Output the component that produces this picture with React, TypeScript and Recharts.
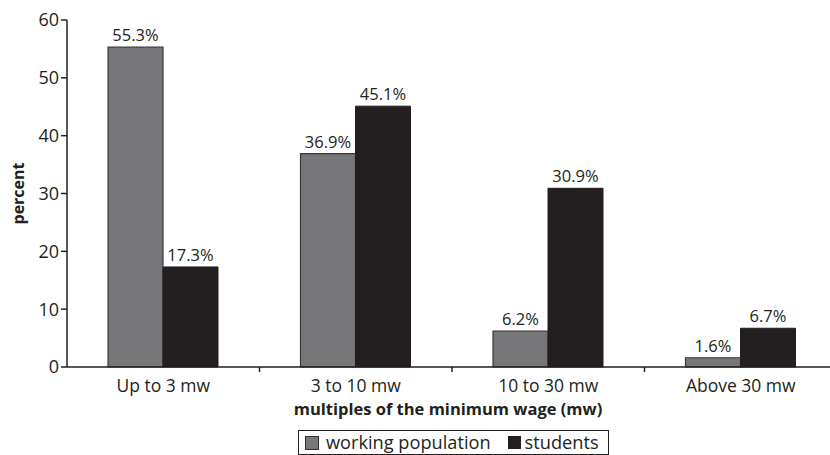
import React from "react";
import { BarChart, Bar, XAxis, YAxis, LabelList } from "recharts";

const categories = ["Up to 3 mw", "3 to 10 mw", "10 to 30 mw", "Above 30 mw"];
const workingPopulation = [55.3, 36.9, 6.2, 1.6];
const students = [17.3, 45.1, 30.9, 6.7];
const yTicks = [0, 10, 20, 30, 40, 50, 60];

const data = categories.map((c, i) => ({
  category: c,
  working: workingPopulation[i],
  students: students[i],
}));

const FONT = "'Open Sans', sans-serif";
const CHART_W = 840;
const CHART_H = 455;
const Y_AXIS_W = 67;
const MARGIN = { top: 20, right: 3, left: 0, bottom: 58 };
const PLOT_W = CHART_W - MARGIN.left - MARGIN.right - Y_AXIS_W;
const HALF_BAND = PLOT_W / categories.length / 2;
const AXIS_COLOR = "#231f20";
const GREY = "#77777a";
const BLACK = "#231f20";

const XTick = (props: any) => {
  const { x, y, payload, index } = props;
  return (
    <g>
      {index > 0 && (
        <line x1={x - HALF_BAND} x2={x - HALF_BAND} y1={y - 8} y2={y - 3} stroke={AXIS_COLOR} strokeWidth={1.5} />
      )}
      <text x={x} y={y + 17} textAnchor="middle" fontFamily={FONT} fontSize={17.5} fill="#231f20">
        {payload.value}
      </text>
    </g>
  );
};

const YLabel = (props: any) => {
  const vb = props.viewBox;
  const cy = vb.y + vb.height / 2;
  return (
    <text x={18} y={cy} transform={`rotate(-90, 18, ${cy})`} textAnchor="middle" dominantBaseline="central"
      fontFamily={FONT} fontSize={16} fontWeight="bold" fill="#231f20">
      percent
    </text>
  );
};

const XLabel = (props: any) => {
  const vb = props.viewBox;
  return (
    <text x={vb.x + vb.width / 2 - 4} y={vb.y + 48} textAnchor="middle"
      fontFamily={FONT} fontSize={16.5} fontWeight="bold" fill="#231f20">
      multiples of the minimum wage (mw)
    </text>
  );
};

const LegendBox = () => (
  <div style={{ position: "absolute", left: 298, top: 430, display: "inline-flex", alignItems: "center", border: "1.5px solid #231f20", padding: "0 9px 0 6px", height: 25, lineHeight: "19px", fontFamily: FONT, fontSize: 18.2, color: "#231f20", background: "#fff", whiteSpace: "nowrap", boxSizing: "border-box" }}>
    <span style={{ display: "inline-block", width: 12, height: 12, background: GREY, border: "1px solid #333", marginRight: 7 }} />
    <span style={{ marginRight: 17 }}>working population</span>
    <span style={{ display: "inline-block", width: 13, height: 13, background: BLACK, marginRight: 4 }} />
    <span>students</span>
  </div>
);

export default function App() {
  return (
    <div style={{ position: "absolute", left: 0, top: 0, width: 830, height: 455, overflow: "hidden", background: "#fff" }}>
      <BarChart width={CHART_W} height={CHART_H} data={data} margin={MARGIN} barGap={0} barCategoryGap="21.3%">
        <XAxis dataKey="category" axisLine={{ stroke: AXIS_COLOR, strokeWidth: 1.5 }} tickLine={false}
          tick={<XTick />} height={30} interval={0} label={<XLabel />} />
        <YAxis domain={[0, 60]} ticks={yTicks} width={Y_AXIS_W} axisLine={{ stroke: AXIS_COLOR, strokeWidth: 1.5 }}
          tickLine={{ stroke: AXIS_COLOR, strokeWidth: 1.5 }} tickSize={6}
          tick={{ fontFamily: FONT, fontSize: 18, fill: "#231f20" }} label={<YLabel />} />
        <Bar dataKey="working" name="working population" fill={GREY} stroke="#3a3a3c" strokeWidth={1.2} isAnimationActive={false}>
          <LabelList dataKey="working" position="top" offset={6} formatter={(v: any) => `${v}%`}
            style={{ fontFamily: FONT, fontSize: 16.5, fill: "#231f20" }} />
        </Bar>
        <Bar dataKey="students" name="students" fill={BLACK} stroke={BLACK} strokeWidth={1} isAnimationActive={false}>
          <LabelList dataKey="students" position="top" offset={6} formatter={(v: any) => `${v}%`}
            style={{ fontFamily: FONT, fontSize: 16.5, fill: "#231f20" }} />
        </Bar>
      </BarChart>
      <LegendBox />
    </div>
  );
}
